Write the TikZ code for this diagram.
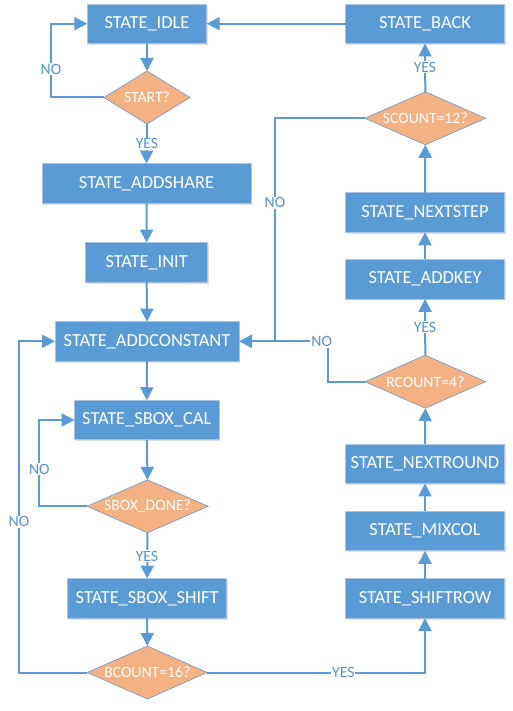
\documentclass[tikz,border=0pt]{standalone}
\usepackage{fontspec}
\setmainfont{Carlito}
\usetikzlibrary{arrows.meta,shapes.geometric,shadows}
\definecolor{boxblue}{HTML}{5B9BD5}
\definecolor{boxedge}{HTML}{A9C4E4}
\definecolor{lineblue}{HTML}{5B9BD5}
\definecolor{diaorange}{HTML}{F4B183}
\definecolor{diaedge}{HTML}{7A9CC6}
\definecolor{lbltext}{HTML}{5593CF}
\begin{document}
\begin{tikzpicture}[x=1pt,y=-1pt,
  stbox/.style={rectangle, fill=boxblue, draw=boxedge, line width=0.8pt,
    text=white, inner sep=0pt, outer sep=0pt, minimum height=39.5pt,
    font=\fontsize{18.4}{20}\selectfont,
    drop shadow={shadow xshift=1.2pt, shadow yshift=-1.5pt, opacity=0.25, fill=gray}},
  lbox/.style={stbox, minimum width=158.6pt},
  dia/.style={diamond, fill=diaorange, draw=diaedge, line width=0.7pt,
    inner sep=0pt, outer sep=0pt, minimum height=53pt},
  dtext/.style={text=white, font=\fontsize{15.7}{18}\selectfont, inner sep=0pt},
  conn/.style={draw=lineblue, line width=2pt},
  arr/.style={conn, -{Triangle[length=13pt,width=13pt]}},
  lbl/.style={fill=white, text=lbltext, inner sep=1pt,
    font=\fontsize{15.7}{18}\selectfont}]
\useasboundingbox (0,0) rectangle (512,711);

% left column
\node[stbox, minimum width=119.4pt] (idle) at (147,23.7) {STATE\_IDLE};
\node[dia, minimum width=86pt] (start) at (147,97.5) {};
\node[dtext] (startt) at (start) {START?};
\node[stbox, minimum width=209pt] (addshare) at (146.5,183.3) {STATE\_ADDSHARE};
\node[stbox, minimum width=122pt] (init) at (146.7,262.3) {STATE\_INIT};
\node[stbox, minimum width=184pt] (addconst) at (147,341.3) {STATE\_ADDCONSTANT};
\node[stbox, minimum width=144.3pt] (sboxcal) at (146.8,420) {STATE\_SBOX\_CAL};
\node[dia, minimum width=121pt] (sboxdone) at (147.5,506.3) {};
\node[dtext] (sboxdonet) at (sboxdone) {SBOX\_DONE?};
\node[stbox, minimum width=159pt] (sboxshift) at (147.2,598.3) {STATE\_SBOX\_SHIFT};
\node[dia, minimum width=120pt] (bcount) at (147.3,672.5) {};
\node[dtext] (bcountt) at (bcount) {BCOUNT=16?};

% right column
\node[lbox] (back) at (425,23.7) {STATE\_BACK};
\node[dia, minimum width=120.7pt] (scount) at (425.3,118.3) {};
\node[dtext] (scountt) at (scount) {SCOUNT=12?};
\node[lbox] (nextstep) at (425,212.5) {STATE\_NEXTSTEP};
\node[lbox] (addkey) at (425,279.2) {STATE\_ADDKEY};
\node[dia, minimum width=120.7pt] (rcount) at (425.3,381.7) {};
\node[dtext] (rcountt) at (rcount) {RCOUNT=4?};
\node[lbox] (nextround) at (425,463.7) {STATE\_NEXTROUND};
\node[lbox] (mixcol) at (425,531) {STATE\_MIXCOL};
\node[lbox] (shiftrow) at (425,598.3) {STATE\_SHIFTROW};

% routing coordinates
\coordinate (xa) at (51,0);
\coordinate (xb) at (39.3,0);
\coordinate (xc) at (19,0);
\coordinate (xd) at (327.7,0);
\coordinate (xe) at (275,0);

% left column connectors
\draw[arr] (idle.south) -- (start.north);
\draw[arr] (start.west) -- (start.west -| xa) |- (idle.west);
\draw[arr] (start.south) -- (addshare.north);
\draw[arr] (addshare.south) -- (init.north);
\draw[arr] (init.south) -- (addconst.north);
\draw[arr] (addconst.south) -- (sboxcal.north);
\draw[arr] (sboxcal.south) -- (sboxdone.north);
\draw[arr] (sboxdone.west) -- (sboxdone.west -| xb) |- (sboxcal.west);
\draw[arr] (sboxdone.south) -- (sboxshift.north);
\draw[arr] (sboxshift.south) -- (bcount.north);
\draw[arr] (bcount.west) -- (bcount.west -| xc) |- (addconst.west);
\draw[arr] (bcount.east) -| (shiftrow.south);

% right column connectors
\draw[arr] (shiftrow.north) -- (mixcol.south);
\draw[arr] (mixcol.north) -- (nextround.south);
\draw[arr] (nextround.north) -- (rcount.south);
\draw[arr] (rcount.north) -- (addkey.south);
\draw[arr] (addkey.north) -- (nextstep.south);
\draw[arr] (nextstep.north) -- (scount.south);
\draw[arr] (scount.north) -- (back.south);
\draw[arr] (back.west) -- (idle.east);
\draw[arr] (rcount.west) -- (rcount.west -| xd) |- (addconst.east);
\draw[conn] (scount.west) -- (scount.west -| xe) -- (xe |- addconst.east);

% labels
\node[lbl] (l1) at (51,69) {NO};
\node[lbl] (l2) at (147,143.7) {YES};
\node[lbl] (l3) at (39.3,469) {NO};
\node[lbl] (l4) at (147,556) {YES};
\node[lbl] (l5) at (19,521.7) {NO};
\node[lbl] (l6) at (343.3,672.5) {YES};
\node[lbl] (l7) at (425,327.3) {YES};
\node[lbl] (l8) at (425,67.3) {YES};
\node[lbl] (l9) at (321.7,341.5) {NO};
\node[lbl] (l10) at (275,202.7) {NO};
\end{tikzpicture}
\end{document}
